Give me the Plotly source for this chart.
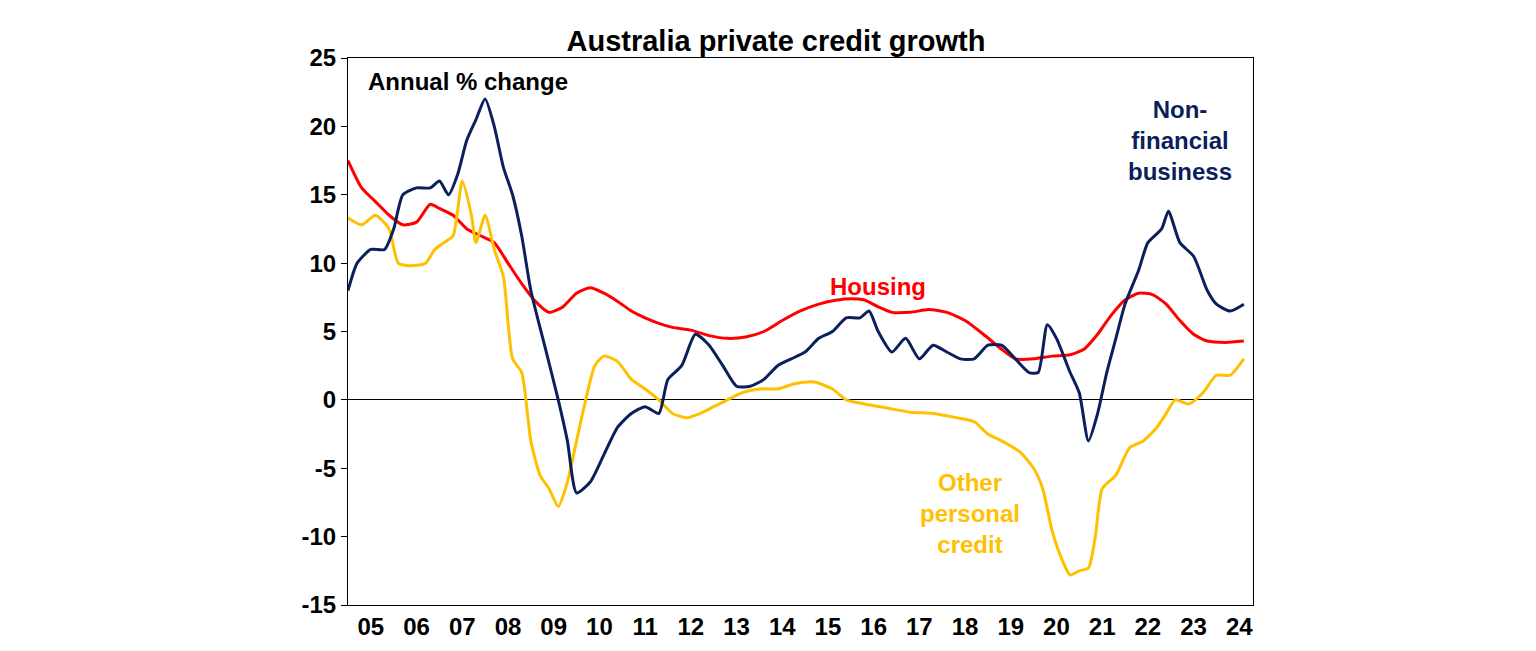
import plotly.graph_objects as go

# Non-financial business credit, annual % change
nfb_x = [2005.0, 2005.2, 2005.5, 2005.8, 2006.0, 2006.2, 2006.5, 2006.8, 2007.0, 2007.2, 2007.4, 2007.6, 2007.8,
         2008.0, 2008.2, 2008.4, 2008.6, 2008.8, 2009.0, 2009.3, 2009.6, 2009.8, 2010.0, 2010.3, 2010.6, 2010.9,
         2011.2, 2011.5, 2011.8, 2012.0, 2012.3, 2012.6, 2012.9, 2013.2, 2013.5, 2013.8, 2014.1, 2014.4, 2014.7,
         2015.0, 2015.3, 2015.6, 2015.9, 2016.2, 2016.4, 2016.6, 2016.9, 2017.2, 2017.5, 2017.8, 2018.1, 2018.4,
         2018.7, 2019.0, 2019.3, 2019.6, 2019.9, 2020.1, 2020.3, 2020.5, 2020.8, 2021.0, 2021.2, 2021.4, 2021.6,
         2021.8, 2022.0, 2022.3, 2022.5, 2022.8, 2022.95, 2023.2, 2023.5, 2023.8, 2024.0, 2024.3, 2024.6]
nfb_y = [8, 10, 11, 11, 12.5, 15, 15.5, 15.5, 16, 15, 16.5, 19, 20.5,
         22, 20, 17, 15, 12, 8, 4, 0, -3, -6.8, -6, -4, -2,
         -1, -0.5, -1, 1.5, 2.5, 4.8, 4, 2.5, 1, 1, 1.5, 2.5, 3,
         3.5, 4.5, 5, 6, 6, 6.5, 5, 3.5, 4.5, 3, 4, 3.5, 3,
         3, 4, 4, 3, 2, 2, 5.5, 4.5, 2, 0.5, -3, -1, 2,
         4.5, 7, 9.5, 11.5, 12.5, 13.8, 11.5, 10.5, 8, 7, 6.5, 7]

# Housing credit
hou_x = [2005.0, 2005.3, 2005.6, 2005.9, 2006.2, 2006.5, 2006.8, 2007.0, 2007.3, 2007.6, 2007.9, 2008.2, 2008.5,
         2008.8, 2009.1, 2009.4, 2009.7, 2010.0, 2010.3, 2010.6, 2010.9, 2011.2, 2011.5, 2011.8, 2012.1, 2012.5,
         2012.9, 2013.3, 2013.7, 2014.1, 2014.5, 2014.9, 2015.3, 2015.7, 2016.0, 2016.3, 2016.6, 2016.9, 2017.3,
         2017.7, 2018.1, 2018.5, 2018.9, 2019.3, 2019.6, 2020.0, 2020.4, 2020.8, 2021.1, 2021.4, 2021.7, 2022.0,
         2022.3, 2022.6, 2022.9, 2023.2, 2023.5, 2023.8, 2024.2, 2024.6]
hou_y = [17.5, 15.5, 14.5, 13.5, 12.8, 13, 14.3, 14, 13.5, 12.5, 12, 11.5, 10,
         8.5, 7.2, 6.4, 6.8, 7.8, 8.2, 7.8, 7.2, 6.5, 6, 5.6, 5.3, 5.1,
         4.7, 4.5, 4.6, 5, 5.8, 6.5, 7, 7.3, 7.4, 7.3, 6.8, 6.4, 6.4,
         6.6, 6.4, 5.8, 4.8, 3.7, 3, 3, 3.2, 3.3, 3.7, 4.8, 6.2, 7.3,
         7.8, 7.7, 7, 5.8, 4.8, 4.3, 4.2, 4.3]

# Other personal credit
oth_x = [2005.0, 2005.3, 2005.6, 2005.9, 2006.1, 2006.4, 2006.7, 2006.9, 2007.1, 2007.3, 2007.5, 2007.7, 2007.8,
         2008.0, 2008.2, 2008.4, 2008.6, 2008.8, 2009.0, 2009.2, 2009.4, 2009.6, 2009.8, 2010.0, 2010.2, 2010.4,
         2010.6, 2010.9, 2011.2, 2011.5, 2011.8, 2012.1, 2012.4, 2012.7, 2013.0, 2013.3, 2013.6, 2014.0, 2014.4,
         2014.8, 2015.2, 2015.6, 2015.9, 2016.3, 2016.8, 2017.3, 2017.8, 2018.3, 2018.7, 2019.0, 2019.3, 2019.7,
         2020.0, 2020.2, 2020.4, 2020.6, 2020.8, 2021.0, 2021.2, 2021.35, 2021.5, 2021.8, 2022.1, 2022.4, 2022.7,
         2022.9, 2023.1, 2023.4, 2023.7, 2024.0, 2024.3, 2024.6]
oth_y = [13.3, 12.8, 13.5, 12.5, 10, 9.8, 10, 11, 11.5, 12, 16, 13.5, 11.5,
         13.5, 11, 9, 3, 2, -3, -5.5, -6.5, -7.8, -6, -3, 0, 2.5,
         3.2, 2.8, 1.5, 0.8, 0, -1, -1.3, -1, -0.5, 0, 0.5, 0.8, 0.8,
         1.2, 1.3, 0.8, 0, -0.3, -0.6, -0.9, -1, -1.3, -1.6, -2.5, -3, -3.8,
         -5, -6.5, -9.5, -11.5, -12.8, -12.5, -12.3, -10, -6.5, -5.5, -3.5, -3, -2,
         -1, 0, -0.3, 0.5, 1.8, 1.8, 3]

years = list(range(2005, 2025))
year_labels = [f"{y % 100:02d}" for y in years]
y_ticks = [-15, -10, -5, 0, 5, 10, 15, 20, 25]

NAVY = "#0B1F5C"
RED = "#FF0000"
GOLD = "#FFC000"

fig = go.Figure()
fig.add_trace(go.Scatter(x=hou_x, y=hou_y, mode="lines", line=dict(color=RED, width=3, shape="spline", smoothing=0.6)))
fig.add_trace(go.Scatter(x=oth_x, y=oth_y, mode="lines", line=dict(color=GOLD, width=3, shape="spline", smoothing=0.6)))
fig.add_trace(go.Scatter(x=nfb_x, y=nfb_y, mode="lines", line=dict(color=NAVY, width=3, shape="spline", smoothing=0.6)))

fig.update_layout(
    width=1536, height=651, showlegend=False,
    plot_bgcolor="white", paper_bgcolor="white",
    margin=dict(l=340, r=291, t=50, b=54),
    title=dict(text="<b>Australia private credit growth</b>", x=0.5, xanchor="center", y=0.965,
               font=dict(family="Arial, Liberation Sans", size=29, color="black")),
    font=dict(family="Arial, Liberation Sans", size=24, color="black"),
)
fig.update_xaxes(range=[2005, 2024.8], tickvals=[y + 0.5 for y in years], ticktext=[f"<b>{t}</b>" for t in year_labels],
                 ticks="", showgrid=False, showline=True, linecolor="black", mirror=True, zeroline=False,
                 automargin=False)
fig.update_yaxes(range=[-15, 25], tickvals=y_ticks, ticktext=[f"<b>{v}</b>" for v in y_ticks],
                 ticks="outside", ticklen=6, tickcolor="black",
                 showgrid=False, showline=True, linecolor="black", mirror=True,
                 zeroline=True, zerolinecolor="black", zerolinewidth=1, automargin=False)

fig.add_annotation(x=2005.4, y=23.3, text="<b>Annual % change</b>", xanchor="left", showarrow=False,
                   font=dict(size=24, color="black"))
fig.add_annotation(x=2023.2, y=19, text="<b>Non-<br>financial<br>business</b>", showarrow=False,
                   font=dict(size=24, color=NAVY))
fig.add_annotation(x=2016.6, y=8.3, text="<b>Housing</b>", showarrow=False, font=dict(size=24, color=RED))
fig.add_annotation(x=2018.6, y=-8.3, text="<b>Other<br>personal<br>credit</b>", showarrow=False,
                   font=dict(size=24, color=GOLD))

fig.write_html("out.html")
